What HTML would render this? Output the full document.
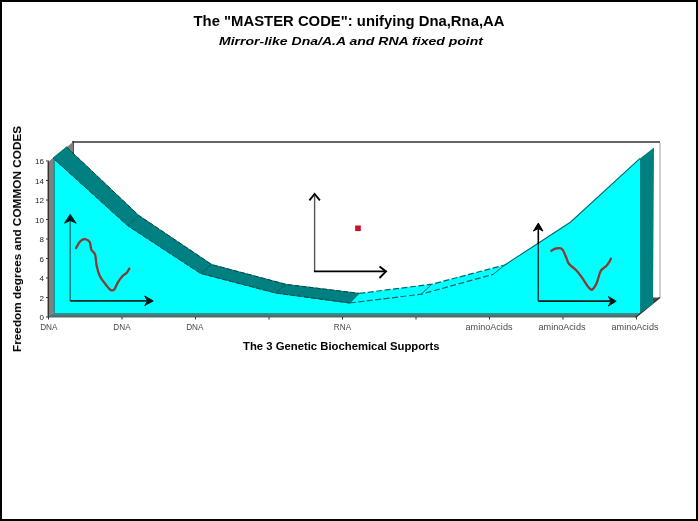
<!DOCTYPE html>
<html><head><meta charset="utf-8">
<style>
html,body{margin:0;padding:0;background:#fff;}
body{width:698px;height:521px;overflow:hidden;position:relative;font-family:"Liberation Sans",sans-serif;}
#frame{position:absolute;left:0;top:0;width:694px;height:517px;border:2px solid #000;background:#fff;}
.t{position:absolute;white-space:nowrap;color:#000;font-weight:bold;}
#title{left:349.3px;top:11.8px;font-size:14.1px;line-height:18px;transform:translateX(-50%) scaleX(1.053);}
#sub{left:350.5px;top:34.4px;font-size:11.6px;line-height:14px;font-style:italic;transform:translateX(-50%) scaleX(1.21);}
#xt{left:341.3px;top:339px;font-size:11.3px;line-height:14px;transform:translateX(-50%);}
#yt{left:17px;top:238.7px;font-size:11.8px;line-height:14px;transform:translate(-50%,-50%) rotate(-90deg);}
svg{position:absolute;left:0;top:0;filter:blur(0.4px);}
.t{filter:blur(0.35px);}
.tk{font-size:8.2px;fill:#4a4a4a;font-weight:normal;font-family:"Liberation Sans",sans-serif;}
</style></head><body>
<div id="frame"></div>
<div class="t" id="title">The "MASTER CODE": unifying Dna,Rna,AA</div>
<div class="t" id="sub">Mirror-like Dna/A.A and RNA fixed point</div>
<div class="t" id="xt">The 3 Genetic Biochemical Supports</div>
<div class="t" id="yt">Freedom degrees and COMMON CODES</div>
<svg width="698" height="521" viewBox="0 0 698 521">
<!-- back wall -->
<path d="M72.5 142 H660" fill="none" stroke="#333" stroke-width="1.5"/>
<path d="M73 141.300 V160" fill="none" stroke="#222" stroke-width="1.6"/>
<path d="M660 143 V298" fill="none" stroke="#bbb" stroke-width="1.4"/>
<!-- left wall -->
<polygon points="48,162 53,158 73,142 73,160 54,176 54,312 48,317" fill="#808080"/>
<!-- floor -->
<polygon points="48,317 73,297.5 660,297.5 636,317" fill="#4a4a4a"/>
<polygon points="48,317 54,313 640,313 636,317" fill="#3a8a8a"/>
<polygon points="48,317.500 50.500,315.300 638,315.300 635.500,317.500" fill="#4f6a6a"/>
<path d="M635.500 317.500L660 297.500" stroke="#333" stroke-width="1.200" fill="none"/>
<!-- right side face -->
<polygon points="640,158.4 654,147.5 653,304 640,313" fill="#008080"/>
<!-- front face -->
<polygon points="53,158 127.5,225.5 200.6,273.4 275.5,293 349.8,303 421.2,294.2 493.3,274.3 504.8,265 570.7,222 640,158.4 640,313 54,313 54,159" fill="#00ffff"/>
<!-- top band (cyan) right part -->
<polygon points="349.8,303 421.2,294.2 493.3,274.3 504.8,265 431.8,284.2 359.3,293.4" fill="#00ffff"/>
<g fill="none" stroke="#006868" stroke-width="1.2">
<path d="M359.3 293.4L431.8 284.2L504.8 265" stroke-dasharray="6 2.500"/>
<path d="M349.8 303L421.2 294.2L493.3 274.3" stroke-dasharray="6 2.500"/>
<path d="M421.2 294.2L431.8 284.2M493.3 274.3L504.8 265" stroke-width="1"/>
<path d="M504.8 265L570.7 222L640 158.400" stroke-width="1.100" stroke="#006868"/>
</g>
<!-- top band (teal) left part -->
<polygon points="53,158 127.5,225.5 200.6,273.4 275.5,293 349.8,303 359.3,293.4 286.2,284.4 211.8,264.6 138.7,215.4 66.5,147" fill="#008080" stroke="#007070" stroke-width="0.8"/>
<path d="M66.500 147L138.700 215.400L211.800 264.600L286.200 284.400L359.300 293.400M53 158L127.500 225.500L200.600 273.400L275.500 293L349.800 303" fill="none" stroke="#004a4a" stroke-width="1" stroke-dasharray="5 2"/>
<g stroke="#005c5c" stroke-width="0.9"><line x1="127.5" y1="225.5" x2="138.7" y2="215.4"/><line x1="200.6" y1="273.4" x2="211.8" y2="264.6"/><line x1="275.5" y1="293" x2="286.2" y2="284.4"/></g>
<path d="M48.300 161.500V317" stroke="#333" stroke-width="1.500" fill="none"/>
<path d="M54.300 159V313" stroke="#109090" stroke-width="1.200" fill="none"/>
<!-- axis ticks -->
<g stroke="#333" stroke-width="1">
<path d="M48.5 317v2.500M122 317v2.500M195.500 317v2.500M269 317v2.500M342.500 317v2.500M416 317v2.500M489.500 317v2.500M563 317v2.500M636.500 317v2.500"/>
<path d="M46 317h3M46 297.500h3M46 278h3M46 258.500h3M46 239h3M46 219.500h3M46 200h3M46 180.500h3M46 161h3"/>
</g>
<g class="tk" text-anchor="end" style="font-size:8px;fill:#222">
<text x="44" y="320">0</text><text x="44" y="300.500">2</text><text x="44" y="281">4</text><text x="44" y="261.500">6</text><text x="44" y="242">8</text><text x="44" y="222.500">10</text><text x="44" y="203">12</text><text x="44" y="183.500">14</text><text x="44" y="164">16</text>
</g>
<g class="tk" text-anchor="middle">
<text x="48.800" y="330.300">DNA</text><text x="122" y="330.300">DNA</text><text x="194.800" y="330.300">DNA</text><text x="342.500" y="330.300">RNA</text><text x="489" y="330.300" textLength="47" lengthAdjust="spacingAndGlyphs">aminoAcids</text><text x="562" y="330.300" textLength="47" lengthAdjust="spacingAndGlyphs">aminoAcids</text><text x="635" y="330.300" textLength="47" lengthAdjust="spacingAndGlyphs">aminoAcids</text>
</g>
<!-- arrows -->
<g fill="none" stroke="#000" stroke-width="1.7" stroke-linejoin="miter">
<path d="M70.2 217V300.900" stroke="#006a6a" stroke-width="1.300"/>
<path d="M70.2 300.900H151" stroke="#002828" stroke-width="1.800"/>
<path d="M64.5 223.200L70.2 214.400L76.100 223.200L70.2 220.500Z" fill="#001818" stroke="#001818" stroke-width="1"/>
<path d="M144.700 296L153.200 300.900L144.700 305.600L147.500 300.900Z" fill="#001818" stroke="#001818" stroke-width="1"/>
<path d="M314.600 196V271.400" stroke="#555" stroke-width="1.400"/>
<path d="M314 271.400H385"/>
<path d="M309.400 200.300L314.600 194L319.900 200.300" stroke-width="1.900"/>
<path d="M379.500 266.400L386 271.400L379.500 278" stroke-width="1.900"/>
<path d="M538.300 226V244" stroke="#000" stroke-width="1.600"/>
<path d="M538.300 244V301.200" stroke="#004040" stroke-width="1.500"/>
<path d="M538.300 301.200H614" stroke="#002020" stroke-width="1.800"/>
<path d="M533.400 231.100L538.300 223.100L543 231.100L538.300 228.500Z" fill="#000" stroke="#000" stroke-width="1"/>
<path d="M608.400 296.600L616.200 301.200L608.400 306L611 301.200Z" fill="#001818" stroke="#001818" stroke-width="1"/>
</g>
<!-- squiggles -->
<g fill="none" stroke="#8a3a30" stroke-width="2.300" stroke-linecap="round" stroke-linejoin="round">
<path d="M76.1 248.1 C76.8 246.9 78.8 242.7 80.3 241.2 C81.8 239.7 83.6 238.9 85.2 239.1 C86.8 239.3 88.8 240.4 89.8 242.2 C90.8 244.0 90.4 247.5 91.3 249.6 C92.2 251.7 94.2 251.8 95.1 254.5 C96.0 257.2 95.8 261.8 96.6 265.5 C97.4 269.2 98.3 272.8 99.8 276.0 C101.3 279.2 103.9 282.2 105.7 284.5 C107.5 286.8 108.9 288.8 110.3 289.7 C111.7 290.6 112.8 291.0 114.1 289.7 C115.4 288.4 116.5 284.6 117.9 282.3 C119.3 280.0 121.1 277.6 122.6 276.0 C124.1 274.4 125.7 274.1 126.8 272.8 C127.9 271.5 128.9 269.3 129.3 268.6"/>
<path d="M551.4 250.8 C552.1 250.4 553.8 248.9 555.6 248.6 C557.4 248.3 560.2 247.6 562.0 249.1 C563.8 250.6 565.0 255.0 566.2 257.5 C567.4 260.0 567.3 261.7 568.9 263.8 C570.5 265.9 573.5 267.5 575.7 269.8 C577.9 272.1 579.9 274.7 582.0 277.6 C584.1 280.5 586.6 285.1 588.3 287.1 C590.0 289.1 590.7 290.3 592.1 289.6 C593.5 288.9 595.4 285.9 596.8 282.8 C598.2 279.7 599.0 274.1 600.6 271.2 C602.2 268.3 604.8 267.6 606.3 266.0 C607.8 264.4 608.7 263.0 609.5 261.7 C610.3 260.4 610.7 259.1 610.9 258.6"/>
</g>
<rect x="355.200" y="225.500" width="5.600" height="5.600" fill="#c8102a"/>
</svg>
</body></html>
